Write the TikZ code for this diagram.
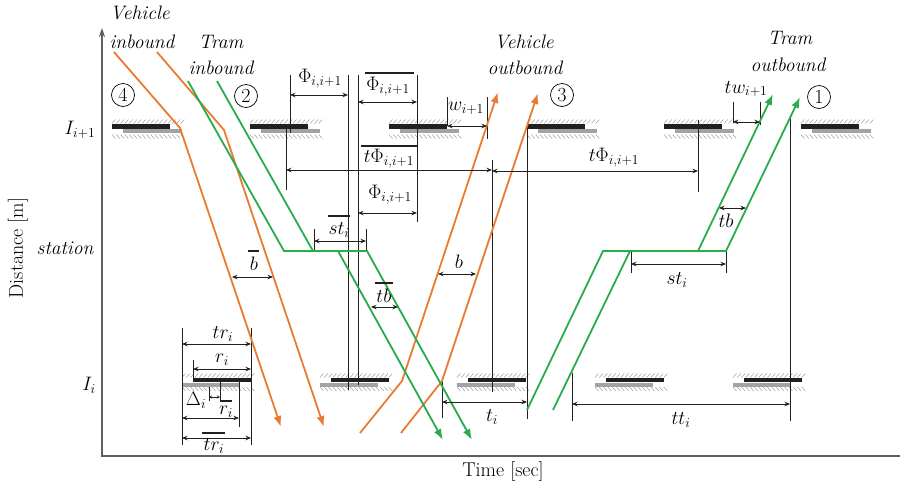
\RequirePackage{fix-cm}
\documentclass[tikz,border=0pt]{standalone}
\usetikzlibrary{arrows.meta}
\definecolor{vorange}{RGB}{234,122,50}
\definecolor{tgreen}{RGB}{40,172,76}
\definecolor{barblack}{RGB}{35,31,32}
\definecolor{bargray}{RGB}{162,162,166}
\definecolor{hatchgray}{RGB}{150,150,150}
\definecolor{axisgray}{RGB}{95,95,95}
\begin{document}
\begin{tikzpicture}[x=1pt,y=-1pt,
  lbl/.style={font=\fontsize{19.5}{22}\selectfont\itshape, inner sep=0pt},
  mlbl/.style={font=\fontsize{19.5}{22}\selectfont, inner sep=0pt},
  axlbl/.style={font=\fontsize{20}{23}\selectfont, inner sep=0pt},
  veh/.style={vorange, line width=1.8pt},
  tram/.style={tgreen, line width=1.8pt},
  tipv/.style={-{Latex[length=11pt,width=8pt]}},
  dim/.style={{Stealth[length=5.5pt,width=4.5pt]}-{Stealth[length=5.5pt,width=4.5pt]}, line width=0.8pt, barblack},
  sdim/.style={{Stealth[length=3pt,width=3pt]}-{Stealth[length=3pt,width=3pt]}, line width=0.6pt, barblack},
  tickl/.style={line width=0.9pt, barblack},
  ovl/.style={line width=1.5pt, barblack},
  hatch/.style={hatchgray, line width=0.45pt},
  blackbar/.style={barblack, line width=4.5pt},
  graybar/.style={bargray, line width=4pt},
  num/.style={circle, draw, line width=0.7pt, minimum size=23pt, inner sep=0pt, font=\fontsize{20}{22}\selectfont}
]
\useasboundingbox (0,0) rectangle (904,491);

% ---------- signal bars, row I_{i+1}
\foreach \x in {112,250,389,527,664,801} {
  \foreach \k in {0,...,16} {
    \draw[hatch] ({\x+\k*4.3},123.5) -- ++(3.5,-4);
    \draw[hatch] ({\x+\k*4.3},134.5) -- ++(3.5,4);
  }
  \draw[blackbar] (\x,126.3) -- ++(58,0);
  \draw[graybar] ({\x+11},131) -- ++(59,0);
}
% ---------- signal bars, row I_i
\foreach \x in {193,331,468,606,744} {
  \foreach \k in {0,...,16} {
    \draw[hatch] ({\x-11+\k*4.3},377.5) -- ++(3.5,-4);
    \draw[hatch] ({\x-11+\k*4.3},387) -- ++(3.5,4);
  }
  \draw[blackbar] (\x,380.2) -- ++(58,0);
  \draw[graybar] ({\x-11},384.5) -- ++(58,0);
}

% ---------- axes
\draw[axisgray, line width=1.6pt, -{Stealth[length=9pt,width=6pt]}] (102,456) -- (102,28);
\draw[axisgray, line width=1.6pt] (101.2,456) -- (900,456);
\node[axlbl, rotate=90] (ylab) at (18,248) {Distance [m]};
\node[axlbl] (xlab) at (503,471) {Time [sec]};
\node[mlbl] (Iip) at (80,130) {$I_{i+1}$};
\node[mlbl] (Ii) at (89,385) {$I_i$};
\node[lbl] (stn) at (65,248) {station};

% ---------- vertical reference lines
\draw[tickl] (290,75) -- (290,133);
\draw[tickl] (286,128) -- (286,190);
\draw[tickl] (348,75) -- (348,390);
\draw[tickl] (358,75) -- (358,385);
\draw[tickl] (417,75) -- (417,222);
\draw[tickl] (447,97) -- (447,126);
\draw[tickl] (487,97) -- (487,139);
\draw[tickl] (492,160) -- (492,392);
\draw[tickl] (527,127) -- (527,419);
\draw[tickl] (698,120) -- (698,192);
\draw[tickl] (733,102) -- (733,123);
\draw[tickl] (760,102) -- (760,125);
\draw[tickl] (790,117) -- (790,421);
\draw[tickl] (314,229) -- (314,251);
\draw[tickl] (366,229) -- (366,251);
\draw[tickl] (631,251) -- (631,273);
\draw[tickl] (726,251) -- (726,273);
\draw[tickl] (442,381) -- (442,418);
\draw[tickl] (572,373) -- (572,421);
\draw[tickl] (182,328) -- (182,445);
\draw[tickl] (251,328) -- (251,445);
\draw[tickl] (193,360) -- (193,380);
\draw[tickl] (239,380) -- (239,427);
\draw[tickl] (209,387) -- (209,401);
\draw[tickl] (220,382) -- (220,401);

% ---------- trajectories
\draw[veh,tipv] (114,52) -- (180,128) -- (281,427);
\draw[veh,tipv] (157,52) -- (224,130) -- (324,427);
\draw[veh,tipv] (360,433) -- (402,381) -- (498,92);
\draw[veh,tipv] (401,433) -- (442,381) -- (538,93);
\draw[tram,tipv] (188,81) -- (284,251) -- (338,251) -- (443,440);
\draw[tram,tipv] (217,81) -- (313,251) -- (367,251) -- (472,440);
\draw[tram,tipv] (527,410) -- (603,251) -- (698,251) -- (773,94);
\draw[tram,tipv] (553,410) -- (630,251) -- (726,251) -- (800,97);

% ---------- dimensions
\draw[dim] (290,95) -- (348,95);
\node[mlbl] (phi1) at (320,79) {$\Phi_{i,i+1}$};
\draw[dim] (358,102) -- (417,102);
\draw[ovl] (365,73) -- (414,73);
\node[mlbl] (phi2) at (388,87) {$\Phi_{i,i+1}$};
\draw[dim] (447,126) -- (487,126);
\node[mlbl] (w) at (466,108) {$w_{i+1}$};
\draw[dim] (286,170) -- (492,170);
\draw[ovl] (361,146) -- (417,146);
\node[mlbl] (tphi1) at (389,159) {$t\Phi_{i,i+1}$};
\draw[dim] (492,171) -- (698,171);
\node[mlbl] (tphi2) at (614,158) {$t\Phi_{i,i+1}$};
\draw[dim] (358,213) -- (417,213);
\node[mlbl] (phi3) at (390,195) {$\Phi_{i,i+1}$};
\draw[dim] (314,241) -- (366,241);
\draw[ovl] (328,216) -- (350,216);
\node[mlbl] (stbar) at (339,230) {$st_i$};
\draw[dim] (371,307) -- (398,307);
\draw[ovl] (375,283) -- (393,283);
\node[mlbl] (tbbar) at (384,296) {$tb$};
\draw[dim] (438,274) -- (476,274);
\node[mlbl] (b) at (459,262) {$b$};
\draw[dim] (232,277) -- (273,277);
\draw[ovl] (248,251) -- (259,251);
\node[mlbl] (bbar) at (254,264) {$b$};
\draw[dim] (631,264) -- (726,264);
\node[mlbl] (st) at (677,280) {$st_i$};
\draw[dim] (719,208) -- (746,208);
\node[mlbl] (tb) at (726,221) {$tb$};
\draw[dim] (733,122) -- (760,122);
\node[mlbl] (tw) at (746,89) {$tw_{i+1}$};
\draw[dim] (442,402) -- (527,402);
\node[mlbl] (ti) at (492,417) {$t_i$};
\draw[dim] (572,404) -- (790,404);
\node[mlbl] (tti) at (681,420) {$tt_i$};
\draw[dim] (182,344) -- (251,344);
\node[mlbl] (tri) at (223,334) {$tr_i$};
\draw[dim] (193,369) -- (251,369);
\node[mlbl] (ri) at (222,360) {$r_i$};
\draw[sdim] (209,397) -- (220,397);
\node[mlbl] (delta) at (196,400) {$\Delta_i$};
\draw[ovl] (220,401) -- (232,401);
\node[mlbl] (ribar) at (226,412) {$r_i$};
\draw[dim] (182,418) -- (239,418);
\draw[dim] (182,438) -- (251,438);
\draw[ovl] (202,433) -- (225,433);
\node[mlbl] (tribar) at (214,446) {$tr_i$};

% ---------- legends
\node[lbl] (v1a) at (140,13) {Vehicle};
\node[lbl] (v1b) at (142,42) {inbound};
\node[lbl] (t1a) at (221,42) {Tram};
\node[lbl] (t1b) at (221,68) {inbound};
\node[lbl] (v2a) at (524,42) {Vehicle};
\node[lbl] (v2b) at (525,68) {outbound};
\node[lbl] (t2a) at (790,38) {Tram};
\node[lbl] (t2b) at (788,65) {outbound};
\node[num] (n4) at (123,95) {4};
\node[num] (n2) at (246,96) {2};
\node[num] (n3) at (562,95) {3};
\node[num] (n1) at (819,97) {1};
\end{tikzpicture}
\end{document}
